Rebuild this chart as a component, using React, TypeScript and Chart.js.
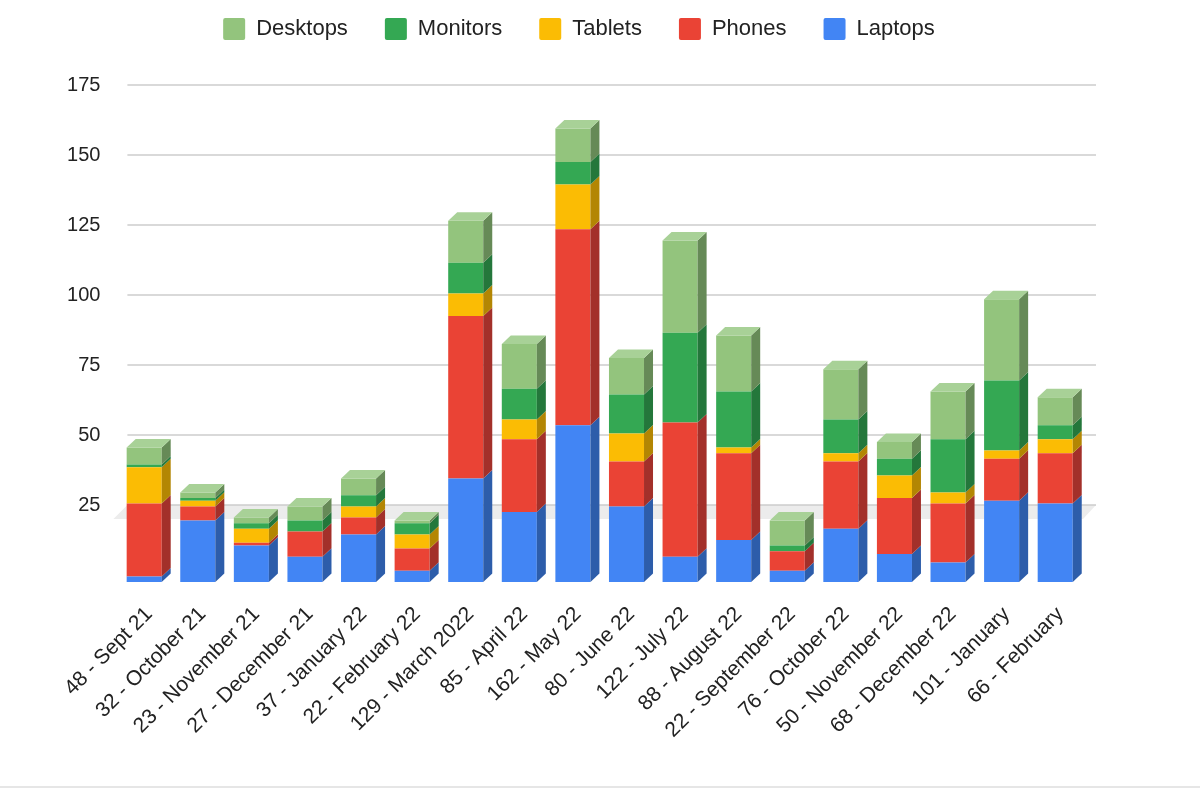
import { useEffect, useRef } from 'react'
import { Chart, registerables } from 'chart.js'

Chart.register(...registerables)

const categories = [
  '48 - Sept 21',
  '32 - October 21',
  '23 - November 21',
  '27 - December 21',
  '37 - January 22',
  '22 - February 22',
  '129 - March 2022',
  '85 - April 22',
  '162 - May 22',
  '80 - June 22',
  '122 - July 22',
  '88 - August 22',
  '22 - September 22',
  '76 - October 22',
  '50 - November 22',
  '68 - December 22',
  '101 - January',
  '66 - February',
]

const laptops = [2, 22, 13, 9, 17, 4, 37, 25, 56, 27, 9, 15, 4, 19, 10, 7, 29, 28]
const phones = [26, 5, 1, 9, 6, 8, 58, 26, 70, 16, 48, 31, 7, 24, 20, 21, 15, 18]
const tablets = [13, 2, 5, 0, 4, 5, 8, 7, 16, 10, 0, 2, 0, 3, 8, 4, 3, 5]
const monitors = [1, 1, 2, 4, 4, 4, 11, 11, 8, 14, 32, 20, 2, 12, 6, 19, 25, 5]
const desktops = [6, 2, 2, 5, 6, 1, 15, 16, 12, 13, 33, 20, 9, 18, 6, 17, 29, 10]

const seriesNames = ['Laptops', 'Phones', 'Tablets', 'Monitors', 'Desktops']
const seriesValues = [laptops, phones, tablets, monitors, desktops]

const yMax = 175
const yStep = 25
const floorValue = 25

// face colours: front, right side, top
const frontColors = ['#4285F4', '#EA4335', '#FBBC04', '#34A853', '#93C47D']
const sideColors = ['#2D5DAA', '#A3302A', '#B38603', '#24773B', '#668A57']
const topColors = ['#6A9EF6', '#EE6B5F', '#FCCB3F', '#5CBA75', '#A8D197']

const FONT = "'Liberation Sans', Arial, sans-serif"
const TEXT = '#222222'

// 3d geometry (px)
const BAR_DX = 9
const BAR_DY = 8.5
const WALL_DY = 7
const LEGEND_HEIGHT = 111
const LEGEND_SHIFT = 8

function fillPoly(ctx: CanvasRenderingContext2D, pts: number[][]) {
  ctx.beginPath()
  ctx.moveTo(pts[0][0], pts[0][1])
  for (let i = 1; i < pts.length; i++) ctx.lineTo(pts[i][0], pts[i][1])
  ctx.closePath()
  ctx.fill()
}

const depthPlugin = {
  id: 'depth3d',
  beforeInit(chart: any) {
    const fit = chart.legend.fit
    chart.legend.fit = function () {
      fit.call(this)
      this.height = LEGEND_HEIGHT
    }
  },
  afterLayout(chart: any) {
    // legend is centred a little right of the chart box
    chart.legend.left += LEGEND_SHIFT
    chart.legend.right += LEGEND_SHIFT
  },
  beforeDatasetsDraw(chart: any) {
    const { ctx, chartArea } = chart
    const y = chart.scales.y
    ctx.save()

    // floor
    const fy = y.getPixelForValue(floorValue)
    ctx.fillStyle = '#ececec'
    fillPoly(ctx, [
      [chartArea.left - 4, fy + WALL_DY],
      [chartArea.left + 10, fy - WALL_DY],
      [chartArea.right + 14, fy - WALL_DY],
      [chartArea.right + 1, fy + WALL_DY],
    ])

    // gridlines on the back wall
    ctx.strokeStyle = '#cccccc'
    ctx.lineWidth = 1.5
    y.ticks.forEach((t: any) => {
      if (t.value <= 0) return
      const py = y.getPixelForValue(t.value) - WALL_DY
      ctx.beginPath()
      ctx.moveTo(chartArea.left + 10, py)
      ctx.lineTo(chartArea.right + 14, py)
      ctx.stroke()
    })
    ctx.restore()
  },
  afterDatasetsDraw(chart: any) {
    const { ctx } = chart
    const count = chart.data.labels.length
    const topIndex = new Array(count).fill(-1)
    chart.data.datasets.forEach((ds: any, di: number) => {
      ds.data.forEach((v: number, i: number) => {
        if (v > 0) topIndex[i] = di
      })
    })

    ctx.save()
    chart.data.datasets.forEach((ds: any, di: number) => {
      const meta = chart.getDatasetMeta(di)
      meta.data.forEach((bar: any, i: number) => {
        if (!(ds.data[i] > 0)) return
        const { x, y, base, width } = bar.getProps(['x', 'y', 'base', 'width'], true)
        const left = x - width / 2
        const right = x + width / 2
        ctx.fillStyle = sideColors[di]
        fillPoly(ctx, [
          [right, y],
          [right + BAR_DX, y - BAR_DY],
          [right + BAR_DX, base - BAR_DY],
          [right, base],
        ])
        if (topIndex[i] === di) {
          ctx.fillStyle = topColors[di]
          fillPoly(ctx, [
            [left, y],
            [left + BAR_DX, y - BAR_DY],
            [right + BAR_DX, y - BAR_DY],
            [right, y],
          ])
        }
      })
    })
    ctx.restore()
  },
}

function DevicesChart() {
  const canvasRef = useRef<HTMLCanvasElement | null>(null)

  useEffect(() => {
    if (!canvasRef.current) return undefined

    const chart = new Chart(canvasRef.current, {
      type: 'bar',
      data: {
        labels: categories,
        datasets: seriesNames.map((name, i) => ({
          label: name,
          data: seriesValues[i],
          backgroundColor: frontColors[i],
          borderWidth: 0,
          categoryPercentage: 1,
          barPercentage: 0.654,
        })),
      },
      options: {
        responsive: true,
        maintainAspectRatio: false,
        animation: false,
        layout: {
          padding: { top: -19, left: 60, right: 118, bottom: 0 },
        },
        plugins: {
          legend: {
            position: 'top',
            reverse: true,
            labels: {
              boxWidth: 22,
              boxHeight: 22,
              useBorderRadius: true,
              borderRadius: 2,
              padding: 37,
              color: TEXT,
              font: { family: FONT, size: 22 },
            },
          },
          tooltip: { enabled: false },
        },
        scales: {
          x: {
            stacked: true,
            grid: { display: false, drawTicks: false },
            border: { display: false },
            afterFit: (axis: any) => {
              axis.height = 204
            },
            ticks: {
              autoSkip: false,
              maxRotation: 45,
              minRotation: 45,
              padding: 20,
              labelOffset: 5,
              color: TEXT,
              font: { family: FONT, size: 21 },
            },
          },
          y: {
            stacked: true,
            min: 0,
            max: yMax,
            grid: { display: false, drawTicks: false },
            border: { display: false },
            afterFit: (axis: any) => {
              axis.width = 57.4
            },
            ticks: {
              stepSize: yStep,
              padding: 17,
              labelOffset: -WALL_DY,
              color: TEXT,
              font: { family: FONT, size: 20 },
              callback: (value: any) => (Number(value) === 0 ? '' : String(value)),
            },
          },
        },
      },
      plugins: [depthPlugin as any],
    })

    return () => {
      chart.destroy()
    }
  }, [])

  return (
    <div style={{ position: 'relative', width: 1200, height: 786 }}>
      <canvas ref={canvasRef} />
    </div>
  )
}

export default function App() {
  return (
    <div
      style={{
        position: 'fixed',
        left: 0,
        top: 0,
        width: 1200,
        height: 788,
        background: '#ffffff',
        borderBottom: '2px solid #e6e6e6',
        boxSizing: 'border-box',
      }}
    >
      <DevicesChart />
    </div>
  )
}
